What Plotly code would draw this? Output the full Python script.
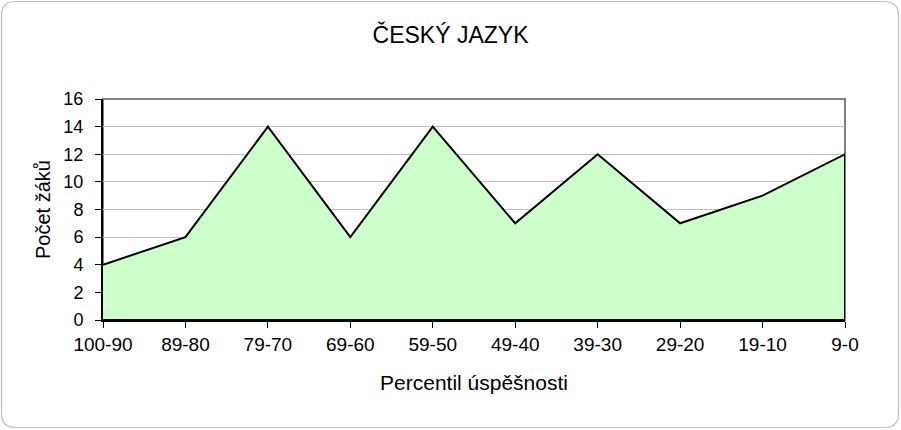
import plotly.graph_objects as go

categories = ["100-90", "89-80", "79-70", "69-60", "59-50", "49-40", "39-30", "29-20", "19-10", "9-0"]
counts = [4, 6, 14, 6, 14, 7, 12, 7, 9, 12]
y_ticks = [0, 2, 4, 6, 8, 10, 12, 14, 16]

title_text = "ČESKÝ JAZYK"
x_title = "Percentil úspěšnosti"
y_title = "Počet žáků"

W, H = 901, 430
L, R, T, B = 103, 56, 99, 110
pw, ph = W - L - R, H - T - B

# closed polygon (area down to zero)
xs = categories + [categories[-1], categories[0]]
ys = counts + [0, 0]

fig = go.Figure()
fig.add_trace(go.Scatter(
    x=xs, y=ys, mode="lines", fill="toself",
    fillcolor="#CCFFCC", line=dict(color="#000000", width=2),
    hoverinfo="skip", showlegend=False,
))

def px2paper(px, py):
    return (px - L) / pw, (H - B - py) / ph

# outer rounded border
r = 14
x0, y0, x1, y1 = 1.5, 1.5, 898.5, 427.5
def P(px, py):
    a, b = px2paper(px, py)
    return f"{a:.5f},{b:.5f}"
path = (f"M {P(x0 + r, y0)} L {P(x1 - r, y0)} Q {P(x1, y0)} {P(x1, y0 + r)} "
        f"L {P(x1, y1 - r)} Q {P(x1, y1)} {P(x1 - r, y1)} "
        f"L {P(x0 + r, y1)} Q {P(x0, y1)} {P(x0, y1 - r)} "
        f"L {P(x0, y0 + r)} Q {P(x0, y0)} {P(x0 + r, y0)} Z")
fig.add_shape(type="path", path=path, xref="paper", yref="paper",
              line=dict(color="#BFBFBF", width=1.2), layer="below")
# plot frame (top/right gray)
fig.add_shape(type="rect", xref="paper", yref="paper", x0=0, y0=0, x1=1, y1=1,
              line=dict(color="#808080", width=2), layer="below")

font = "Liberation Sans, Arial, sans-serif"
fig.update_layout(
    width=W, height=H,
    margin=dict(l=L, r=R, t=T, b=B, pad=0),
    paper_bgcolor="white", plot_bgcolor="white",
    font=dict(family=font, color="#000000"),
    title=dict(text=title_text, x=0.5, xanchor="center", y=1 - 35 / H, yanchor="middle",
               font=dict(size=23, family=font, color="#000000")),
    showlegend=False,
)
fig.update_xaxes(
    type="category", categoryorder="array", categoryarray=categories,
    range=[0, len(categories) - 1],
    showgrid=False, zeroline=False,
    showline=True, linecolor="#000000", linewidth=2,
    ticks="outside", ticklen=6, tickwidth=1, tickcolor="#000000",
    tickfont=dict(size=19, family=font), ticklabelstandoff=0,
    title=dict(text=x_title, font=dict(size=21, family=font), standoff=22),
)
fig.update_yaxes(
    range=[0, 16], tickvals=y_ticks,
    showgrid=True, gridcolor="#C0C0C0", gridwidth=1, zeroline=False,
    showline=True, linecolor="#000000", linewidth=2,
    ticks="outside", ticklen=6, tickwidth=1, tickcolor="#000000",
    tickfont=dict(size=18, family=font), ticklabelstandoff=8,
    title=dict(text=y_title, font=dict(size=20, family=font), standoff=7),
)

fig.write_html("out.html", config={"displayModeBar": False},
               post_script="document.body.style.margin='0';document.body.style.padding='0';")
